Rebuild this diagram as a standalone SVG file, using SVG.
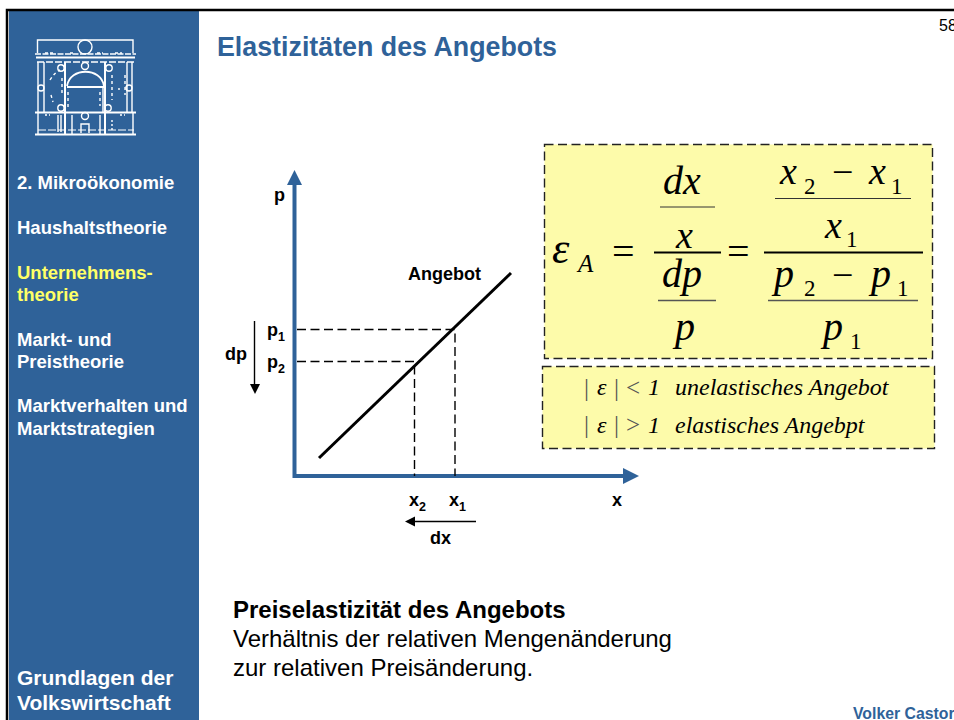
<svg xmlns="http://www.w3.org/2000/svg" width="954" height="720" viewBox="0 0 954 720">
<style>
.s{font-family:"Liberation Sans",Arial,sans-serif}
.nav{font-family:"Liberation Sans",Arial,sans-serif;font-weight:700;font-size:18.5px;fill:#fff}
.b{font-family:"Liberation Sans",Arial,sans-serif;font-weight:700;font-size:18px;fill:#000}
.sub{font-family:"Liberation Sans",Arial,sans-serif;font-weight:700;font-size:12.5px;fill:#000}
.m{font-family:"Liberation Serif","Times New Roman",serif;font-style:italic;font-size:40px;fill:#000}
.x{font-size:38px}
.d{font-family:"Liberation Serif","Times New Roman",serif;font-size:23px;fill:#000}
.o{font-family:"Liberation Serif","Times New Roman",serif;font-size:38px;fill:#000}
.n{font-family:"Liberation Serif","Times New Roman",serif;font-size:25px;fill:#555}
.t{font-family:"Liberation Serif","Times New Roman",serif;font-style:italic;font-size:24px;fill:#000}
.box{fill:#fdfbaa;stroke:#222;stroke-width:1.4;stroke-dasharray:9 4.5}
.dash{stroke:#000;stroke-width:1.4;stroke-dasharray:9 4.5;fill:none}
.logo{stroke:#fff;stroke-width:1.4;fill:none}
.ax{stroke:#2f6299;stroke-width:4;fill:none}
</style>
<defs>
<marker id="blue" markerUnits="userSpaceOnUse" markerWidth="16" markerHeight="16" refX="0" refY="8" orient="auto"><path d="M0 0L16 8L0 16Z" fill="#2f6299"/></marker>
</defs>
<rect width="954" height="720" fill="#fff"/>
<rect id="sidebar" x="9" y="11" width="190" height="709" fill="#2f6299"/>
<path d="M7 720V10H954" fill="none" stroke="#000" stroke-width="2.5"/>
<g id="logo" class="logo">
<path d="M37.500 53V40H133V53"/>
<path d="M35 54H136" stroke-dasharray="6 1.500"/>
<circle cx="85" cy="47" r="7"/>
<path d="M36 57.500H135" stroke-width="1.800"/>
<path d="M37 62H134" stroke-dasharray="7 2"/>
<path d="M45 53H55M70 53H75M97 53H103M115 53H122" stroke-dasharray="3 2"/>
<path d="M38 62V112M44 62V112M127 62V112M132 62V112"/>
<path d="M65 62V135" stroke-width="2"/><path d="M105 62V135" stroke-width="2"/><path d="M103 88V112"/>
<path d="M67 87H105" stroke-width="2"/>
<path d="M67 86C70 67 101 67 104 86" stroke-width="1.800"/>
<circle cx="85" cy="66" r="3.500"/>
<circle cx="61" cy="68" r="3.200"/><circle cx="109" cy="68" r="3.200"/>
<circle cx="41" cy="88" r="3"/><circle cx="129" cy="88" r="3"/>
<circle cx="61" cy="108" r="3.200"/><circle cx="108" cy="108" r="3.200"/>
<path d="M50 80C53 75 56 72 60 70M62 78V96M51 95L53 102M68 92V108M100 92V106M112 75V100M119 88V90M125 75V95" stroke-dasharray="3 3"/>
<path d="M35 112.500H136" stroke-width="1.800"/>
<path d="M35 134.500H136" stroke-width="2"/>
<path d="M38 130H134" stroke-dasharray="8 2" stroke-width="1"/>
<path d="M38 112V134M133 112V134M58 115V132M61 115V132M72 115V134M100 115V134M81 133V124H89V133"/>
<path d="M45 115H50M120 115H125M112 120V132" stroke-dasharray="2 2"/>
<circle cx="85" cy="116" r="3.500"/>
</g>
<g id="nav">
<text class="nav" x="17" y="189">2. Mikroökonomie</text>
<text class="nav" x="17" y="234">Haushaltstheorie</text>
<text class="nav" x="17" y="279" style="fill:#ffff66">Unternehmens-</text>
<text class="nav" x="17" y="301" style="fill:#ffff66">theorie</text>
<text class="nav" x="17" y="346">Markt- und</text>
<text class="nav" x="17" y="368">Preistheorie</text>
<text class="nav" x="17" y="412">Marktverhalten und</text>
<text class="nav" x="17" y="435">Marktstrategien</text>
<text class="nav" x="17" y="685" style="font-size:21px">Grundlagen der</text>
<text class="nav" x="17" y="710" style="font-size:21px">Volkswirtschaft</text>
</g>
<text id="title" class="s" x="217" y="56" font-size="26.800" font-weight="700" fill="#2f6299">Elastizitäten des Angebots</text>
<text id="pagenum" class="s" x="939" y="31" font-size="16" fill="#000">58</text>
<text id="author" class="s" x="853" y="719" font-size="15.800" font-weight="700" fill="#2f6299">Volker Castor</text>
<g id="connectors">
<path class="ax" d="M294.500 184V476H623" marker-end="url(#blue)"/>
<path d="M294.500 170L302 185H287Z" fill="#2f6299"/>
<path d="M319 458L511 273" stroke="#000" stroke-width="3" fill="none"/>
<path class="dash" d="M297 329.500H455V476M297 361.500H414.500V476"/>
<path d="M254.500 321V386" stroke="#000" stroke-width="1.400"/>
<path d="M250 384H260L255 394Z" fill="#000"/>
<path d="M476 521.500H412" stroke="#000" stroke-width="1.400"/>
<path d="M415 516.500V526.500L405 521.500Z" fill="#000"/>
</g>
<g id="chart-labels">
<text class="b" x="274" y="201">p</text>
<text class="b" x="408" y="280">Angebot</text>
<text class="b" x="267" y="336">p</text><text class="sub" x="278" y="341">1</text>
<text class="b" x="267" y="368">p</text><text class="sub" x="278" y="373">2</text>
<text class="b" x="225" y="360">dp</text>
<text class="b" x="409" y="506">x</text><text class="sub" x="419" y="511">2</text>
<text class="b" x="449" y="506">x</text><text class="sub" x="459" y="511">1</text>
<text class="b" x="612" y="506">x</text>
<text class="b" x="430" y="544">dx</text>
</g>
<g id="formula">
<rect class="box" x="544.500" y="144.500" width="388" height="214"/>
<text class="m" x="552" y="263" style="font-size:44px">ε</text>
<text class="m" x="578" y="272" style="font-size:25px">A</text>
<text class="o" x="612" y="265" style="font-size:40px">=</text>
<text class="m" x="663" y="194">dx</text>
<path d="M660 207H715" stroke="#333" stroke-width="1"/>
<text class="m x" x="676" y="248">x</text>
<path d="M654 252.500H721" stroke="#000" stroke-width="2"/>
<text class="m" x="662" y="287">dp</text>
<path d="M658 300.500H716" stroke="#555" stroke-width="1.500"/>
<text class="m" x="675" y="340">p</text>
<text class="o" x="727" y="265" style="font-size:40px">=</text>
<text class="m x" x="780" y="184">x</text>
<text class="d" x="804" y="194">2</text>
<text class="o" x="832" y="185">−</text>
<text class="m x" x="869" y="184">x</text>
<text class="d" x="891" y="194">1</text>
<path d="M775 198.500H911" stroke="#333" stroke-width="1"/>
<text class="m x" x="825" y="238">x</text>
<text class="d" x="846" y="247">1</text>
<path d="M764 252.500H923" stroke="#000" stroke-width="2"/>
<text class="m" x="774" y="287">p</text>
<text class="d" x="804" y="296">2</text>
<text class="o" x="832" y="288">−</text>
<text class="m" x="871" y="287">p</text>
<text class="d" x="897" y="296">1</text>
<path d="M768 300.500H918" stroke="#555" stroke-width="1.500"/>
<text class="m" x="823" y="340">p</text>
<text class="d" x="850" y="349">1</text>
</g>
<g id="legend">
<rect class="box" x="542.500" y="366.500" width="392" height="82"/>
<text class="n" x="584" y="396">|</text><text class="t" x="597" y="395">ε</text><text class="n" x="614" y="396">|</text><text class="n" x="626" y="396">&lt;</text><text class="t" x="648" y="395">1</text>
<text class="t" x="675" y="395">unelastisches Angebot</text>
<text class="n" x="584" y="433">|</text><text class="t" x="597" y="433">ε</text><text class="n" x="614" y="433">|</text><text class="n" x="626" y="433">&gt;</text><text class="t" x="648" y="433">1</text>
<text class="t" x="675" y="433">elastisches Angebpt</text>
</g>
<g id="caption">
<text class="s" x="233" y="618" font-size="24" font-weight="700">Preiselastizität des Angebots</text>
<text class="s" x="233" y="647" font-size="24">Verhältnis der relativen Mengenänderung</text>
<text class="s" x="233" y="676" font-size="24">zur relativen Preisänderung.</text>
</g>
</svg>
